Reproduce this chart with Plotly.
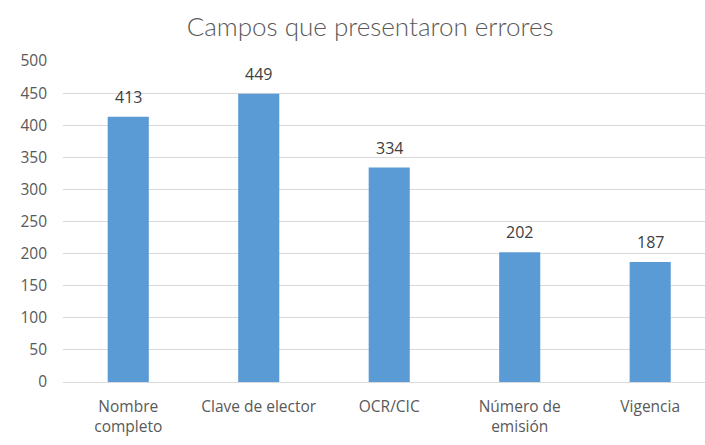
import plotly.graph_objects as go

categories = ["Nombre<br>completo", "Clave de elector", "OCR/CIC", "Número de<br>emisión", "Vigencia"]
values = [413, 449, 334, 202, 187]
y_ticks = [0, 50, 100, 150, 200, 250, 300, 350, 400, 450, 500]

bar_color = "#5B9BD5"
text_color = "#595959"
grid_color = "#D9D9D9"
tick_font = dict(family="Open Sans, Liberation Sans, sans-serif", size=15.5, color=text_color)

fig = go.Figure()
fig.add_trace(go.Bar(
    x=list(range(len(categories))),
    y=values,
    width=0.315,
    marker=dict(color=bar_color, line=dict(width=0)),
    hoverinfo="skip",
))

# value labels above each bar
for i, v in enumerate(values):
    fig.add_annotation(
        x=i, y=v, text=str(v), showarrow=False,
        yanchor="bottom", yshift=7,
        font=dict(family="Open Sans, Liberation Sans, sans-serif", size=16, color="#404040"),
    )

fig.update_layout(
    width=705, height=445,
    margin=dict(l=63, r=0, t=61, b=63),
    paper_bgcolor="white",
    plot_bgcolor="white",
    showlegend=False,
    title=dict(
        text="Campos que presentaron errores",
        x=0.525, xanchor="center", y=0.94, yanchor="middle",
        font=dict(family="Lato, DejaVu Sans, sans-serif", size=26, color=text_color, weight=300),
    ),
    xaxis=dict(
        range=[-0.5, 4.42],
        tickmode="array",
        tickvals=list(range(len(categories))),
        ticktext=categories,
        showgrid=False,
        showline=True, linecolor=grid_color, linewidth=1,
        ticks="", tickfont=tick_font,
        ticklabelstandoff=10,
        fixedrange=True,
    ),
    yaxis=dict(
        range=[0, 500],
        tickmode="array",
        tickvals=y_ticks,
        showgrid=True, gridcolor=grid_color, gridwidth=1,
        zeroline=False,
        showline=False,
        ticks="", ticklabelstandoff=15,
        tickfont=tick_font,
        fixedrange=True,
    ),
)

fig.write_html("out.html")
